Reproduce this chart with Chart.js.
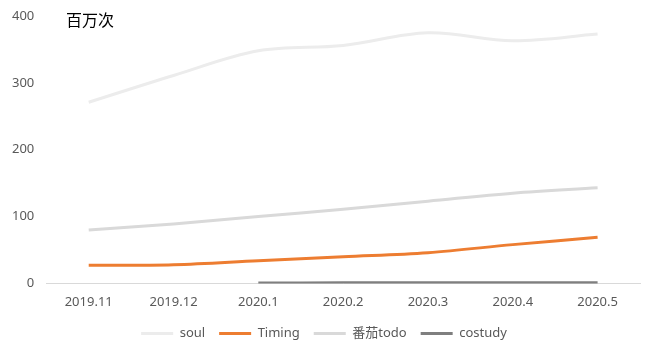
<!DOCTYPE html>
<html>
<head>
<meta charset="utf-8">
<script src="https://cdn.jsdelivr.net/npm/chart.js@4"></script>
<style>
  html, body { margin: 0; padding: 0; background: #fff; }
  #wrap { position: relative; width: 656px; height: 357px; }
  #unit { position: absolute; left: 66px; top: 7px; font: 16px "Noto Sans CJK SC", sans-serif; color: #000; }
</style>
</head>
<body>
<div id="wrap">
  <canvas id="chart" width="656" height="357"></canvas>
  <div id="unit">百万次</div>
</div>
<script>
// months on the x axis
const months = ["2019.11", "2019.12", "2020.1", "2020.2", "2020.3", "2020.4", "2020.5"];

// values in millions
const soul = [271, 311, 348, 356, 375, 363, 373];
const timing = [27, 28, 34, 40, 46, 58, 69];
const fanqieTodo = [80, 89, 100, 111, 123, 135, 143];
const costudy = [null, null, 0.5, 1, 1, 1, 1];

const yTicks = [0, 100, 200, 300, 400];

const font = { family: "'Noto Sans', 'Noto Sans CJK SC', sans-serif", size: 13 };

function line(label, data, color) {
  return {
    label: label,
    data: data,
    borderColor: color,
    backgroundColor: color,
    borderWidth: 3,
    pointRadius: 0,
    tension: 0.35,
    fill: false
  };
}

new Chart(document.getElementById("chart"), {
  type: "line",
  data: {
    labels: months,
    datasets: [
      line("soul", soul, "#ececec"),
      line("Timing", timing, "#ed7d31"),
      line("番茄todo", fanqieTodo, "#d9d9d9"),
      line("costudy", costudy, "#7f7f7f")
    ]
  },
  options: {
    responsive: false,
    animation: false,
    layout: { padding: { left: 8, right: 16, top: 16, bottom: 7 } },
    scales: {
      x: {
        offset: true,
        grid: { display: false },
        border: { display: true, color: "#d9d9d9", width: 1 },
        ticks: { color: "#595959", font: font, padding: 3, maxRotation: 0 }
      },
      y: {
        min: 0,
        max: 400,
        afterBuildTicks: axis => { axis.ticks = yTicks.map(v => ({ value: v })); },
        grid: { display: false },
        border: { display: false },
        ticks: { color: "#595959", font: font, padding: 4 }
      }
    },
    plugins: {
      legend: {
        position: "bottom",
        labels: {
          usePointStyle: true,
          pointStyle: "line",
          pointStyleWidth: 32,
          boxHeight: 13,
          color: "#595959",
          font: font,
          padding: 14
        }
      },
      tooltip: { enabled: false }
    }
  }
});
</script>
</body>
</html>
